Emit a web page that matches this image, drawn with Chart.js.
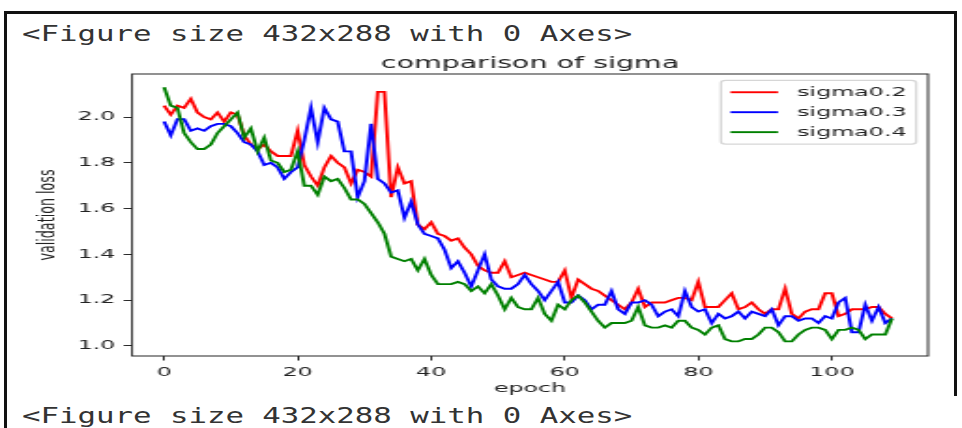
<!DOCTYPE html>
<html>
<head>
<meta charset="utf-8">
<title>comparison of sigma</title>
<script src="https://cdn.jsdelivr.net/npm/chart.js@4.4.1/dist/chart.umd.min.js"></script>
<style>
  html, body { margin: 0; padding: 0; background: #fff; }
  #page { position: relative; width: 962px; height: 428px; overflow: hidden; }
  .edge { position: absolute; background: #111; }
  .out {
    position: absolute; left: 22px; margin: 0;
    font: 22px/26px "DejaVu Sans Mono", monospace; color: #333;
    white-space: pre; transform-origin: 0 0; transform: scaleX(1.396);
  }
  #chart { position: absolute; left: 0; top: 0; transform-origin: 0 0; transform: scaleX(1.871); }
</style>
</head>
<body>
<div id="page">
  <div class="edge" style="left:4px;top:11px;width:953px;height:3px"></div>
  <div class="edge" style="left:4px;top:11px;width:3px;height:417px"></div>
  <div class="edge" style="left:954px;top:11px;width:3px;height:385px"></div>
  <div class="out" style="top:21px">&lt;Figure size 432x288 with 0 Axes&gt;</div>
  <div class="out" style="top:403px">&lt;Figure size 432x288 with 0 Axes&gt;</div>
  <canvas id="chart" width="514" height="428"></canvas>
</div>

<script>
const EPOCHS = Array.from({ length: 110 }, (_, i) => i);
const X_TICKS = [0, 20, 40, 60, 80, 100];
const Y_TICKS = [1.0, 1.2, 1.4, 1.6, 1.8, 2.0];
const LABELS = ['sigma0.2', 'sigma0.3', 'sigma0.4'];
const COLORS = ['#ff0000', '#0000ff', '#008000'];

// validation loss per epoch
const SIGMA_02 = [
  2.05, 2.01, 2.05, 2.04, 2.08, 2.02, 2.00, 1.99, 2.02, 1.98,
  2.02, 2.01, 1.92, 1.88, 1.86, 1.88, 1.85, 1.83, 1.83, 1.83,
  1.94, 1.79, 1.74, 1.70, 1.78, 1.83, 1.80, 1.78, 1.71, 1.77,
  1.76, 1.74, 2.11, 2.11, 1.65, 1.78, 1.71, 1.72, 1.53, 1.51,
  1.54, 1.49, 1.48, 1.46, 1.47, 1.43, 1.40, 1.35, 1.33, 1.32,
  1.32, 1.37, 1.30, 1.31, 1.32, 1.31, 1.30, 1.29, 1.28, 1.28,
  1.33, 1.21, 1.29, 1.27, 1.25, 1.24, 1.22, 1.20, 1.18, 1.16,
  1.19, 1.25, 1.17, 1.19, 1.19, 1.19, 1.20, 1.21, 1.21, 1.20,
  1.28, 1.17, 1.17, 1.17, 1.20, 1.23, 1.16, 1.17, 1.19, 1.16,
  1.14, 1.16, 1.16, 1.25, 1.14, 1.12, 1.15, 1.16, 1.16, 1.23,
  1.23, 1.13, 1.14, 1.16, 1.16, 1.16, 1.17, 1.17, 1.14, 1.12
];
const SIGMA_03 = [
  1.98, 1.92, 1.99, 1.99, 1.94, 1.95, 1.94, 1.96, 1.97, 1.97,
  1.96, 1.93, 1.89, 1.88, 1.85, 1.79, 1.80, 1.78, 1.73, 1.76,
  1.78, 1.90, 2.04, 1.89, 2.04, 1.99, 1.98, 1.85, 1.85, 1.65,
  1.72, 1.97, 1.73, 1.71, 1.67, 1.68, 1.56, 1.63, 1.53, 1.49,
  1.48, 1.47, 1.42, 1.34, 1.37, 1.32, 1.26, 1.33, 1.40, 1.29,
  1.26, 1.25, 1.25, 1.27, 1.31, 1.27, 1.24, 1.20, 1.24, 1.28,
  1.19, 1.19, 1.22, 1.20, 1.16, 1.18, 1.18, 1.24, 1.16, 1.14,
  1.19, 1.19, 1.20, 1.18, 1.13, 1.15, 1.16, 1.13, 1.24, 1.17,
  1.15, 1.16, 1.10, 1.14, 1.12, 1.13, 1.15, 1.12, 1.15, 1.14,
  1.13, 1.16, 1.09, 1.13, 1.13, 1.11, 1.12, 1.12, 1.10, 1.13,
  1.12, 1.19, 1.21, 1.06, 1.06, 1.18, 1.11, 1.17, 1.10, 1.12
];
const SIGMA_04 = [
  2.13, 2.05, 2.04, 1.93, 1.89, 1.86, 1.86, 1.88, 1.93, 1.96,
  1.99, 2.02, 1.91, 1.95, 1.85, 1.91, 1.81, 1.80, 1.76, 1.77,
  1.85, 1.70, 1.70, 1.66, 1.74, 1.72, 1.73, 1.69, 1.64, 1.64,
  1.62, 1.58, 1.54, 1.49, 1.39, 1.38, 1.37, 1.38, 1.33, 1.38,
  1.31, 1.27, 1.27, 1.27, 1.28, 1.27, 1.24, 1.26, 1.23, 1.27,
  1.22, 1.16, 1.21, 1.17, 1.16, 1.16, 1.21, 1.14, 1.11, 1.18,
  1.16, 1.20, 1.22, 1.19, 1.15, 1.11, 1.08, 1.10, 1.10, 1.10,
  1.11, 1.17, 1.09, 1.08, 1.08, 1.09, 1.08, 1.11, 1.11, 1.08,
  1.07, 1.05, 1.08, 1.09, 1.03, 1.02, 1.02, 1.03, 1.03, 1.05,
  1.08, 1.08, 1.06, 1.02, 1.02, 1.05, 1.07, 1.08, 1.08, 1.07,
  1.03, 1.07, 1.07, 1.08, 1.07, 1.03, 1.05, 1.05, 1.05, 1.12
];

const FONT = 'DejaVu Sans';
const TEXT = '#222';
const PT = 1.271;   // one point in canvas pixels

// box, title and legend the way pyplot draws them
const frame = {
  id: 'frame',
  afterDraw(chart) {
    const { ctx, chartArea: a } = chart;
    ctx.save();
    ctx.strokeStyle = '#2a2a2a';
    ctx.lineWidth = 0.8 * PT;
    ctx.strokeRect(a.left, a.top, a.right - a.left, a.bottom - a.top);

    ctx.fillStyle = TEXT;
    ctx.font = `${12 * PT}px "${FONT}"`;
    ctx.textAlign = 'center';
    ctx.textBaseline = 'alphabetic';
    ctx.fillText('comparison of sigma', (a.left + a.right) / 2, a.top - 4.6 * PT);

    const fs = 10 * PT;
    ctx.font = `${fs}px "${FONT}"`;
    const textW = Math.max(...LABELS.map(l => ctx.measureText(l).width));
    const pad = 0.4 * fs, rowH = 1.07 * fs, gap = 0.5 * fs;
    const w = pad + 2 * fs + 0.8 * fs + textW + pad;
    const h = 2 * pad + LABELS.length * rowH + (LABELS.length - 1) * gap;
    const x = a.right - 0.5 * fs - w;
    const y = a.top + 0.5 * fs;
    ctx.beginPath();
    ctx.roundRect(x, y, w, h, 0.2 * fs);
    ctx.fillStyle = 'rgba(255,255,255,0.8)';
    ctx.fill();
    ctx.strokeStyle = 'rgba(204,204,204,0.8)';
    ctx.lineWidth = PT;
    ctx.stroke();

    ctx.textAlign = 'left';
    ctx.textBaseline = 'middle';
    LABELS.forEach((l, i) => {
      const cy = y + pad + rowH / 2 + i * (rowH + gap);
      ctx.beginPath();
      ctx.moveTo(x + pad, cy);
      ctx.lineTo(x + pad + 2 * fs, cy);
      ctx.strokeStyle = COLORS[i];
      ctx.lineWidth = 1.5 * PT;
      ctx.stroke();
      ctx.fillStyle = TEXT;
      ctx.fillText(l, x + pad + 2.8 * fs, cy + 0.5);
    });
    ctx.restore();
  }
};

function series(label, data, i) {
  return {
    label, data,
    borderColor: COLORS[i],
    borderWidth: 1.5 * PT,
    pointRadius: 0,
    tension: 0,
    fill: false,
    order: 2 - i
  };
}

const tickFont = { family: FONT, size: 10 * PT };

new Chart(document.getElementById('chart'), {
  type: 'line',
  data: {
    labels: EPOCHS,
    datasets: [
      series(LABELS[0], SIGMA_02, 0),
      series(LABELS[1], SIGMA_03, 1),
      series(LABELS[2], SIGMA_04, 2)
    ]
  },
  options: {
    responsive: false,
    devicePixelRatio: 1,
    animation: false,
    events: [],
    layout: { padding: { left: 0, right: 18, top: 74, bottom: 27 } },
    plugins: { legend: { display: false }, tooltip: { enabled: false }, title: { display: false } },
    scales: {
      x: {
        type: 'linear',
        min: -4.8,
        max: 114.4,
        afterFit: s => { s.height = 45; },
        afterBuildTicks: s => { s.ticks = X_TICKS.map(v => ({ value: v })); },
        border: { display: false },
        grid: { drawOnChartArea: false, drawTicks: true, tickLength: 3.5 * PT, color: '#2a2a2a', lineWidth: 0.8 * PT },
        ticks: { color: TEXT, font: tickFont, padding: 3.5 * PT, maxRotation: 0, callback: v => String(v) },
        title: { display: true, text: 'epoch', color: TEXT, font: tickFont, padding: { top: 0, bottom: 4.4 } }
      },
      y: {
        min: 0.956,
        max: 2.188,
        afterFit: s => { s.width = 70.55; },
        afterBuildTicks: s => { s.ticks = Y_TICKS.map(v => ({ value: v })); },
        border: { display: false },
        grid: { drawOnChartArea: false, drawTicks: true, tickLength: 3.5 * PT, color: '#2a2a2a', lineWidth: 0.8 * PT },
        ticks: { color: TEXT, font: tickFont, padding: 3.5 * PT, callback: v => v.toFixed(1) },
        title: { display: true, text: 'validation loss', color: TEXT, font: tickFont, padding: { top: 18, bottom: 0 } }
      }
    }
  },
  plugins: [frame]
});
</script>
</body>
</html>
